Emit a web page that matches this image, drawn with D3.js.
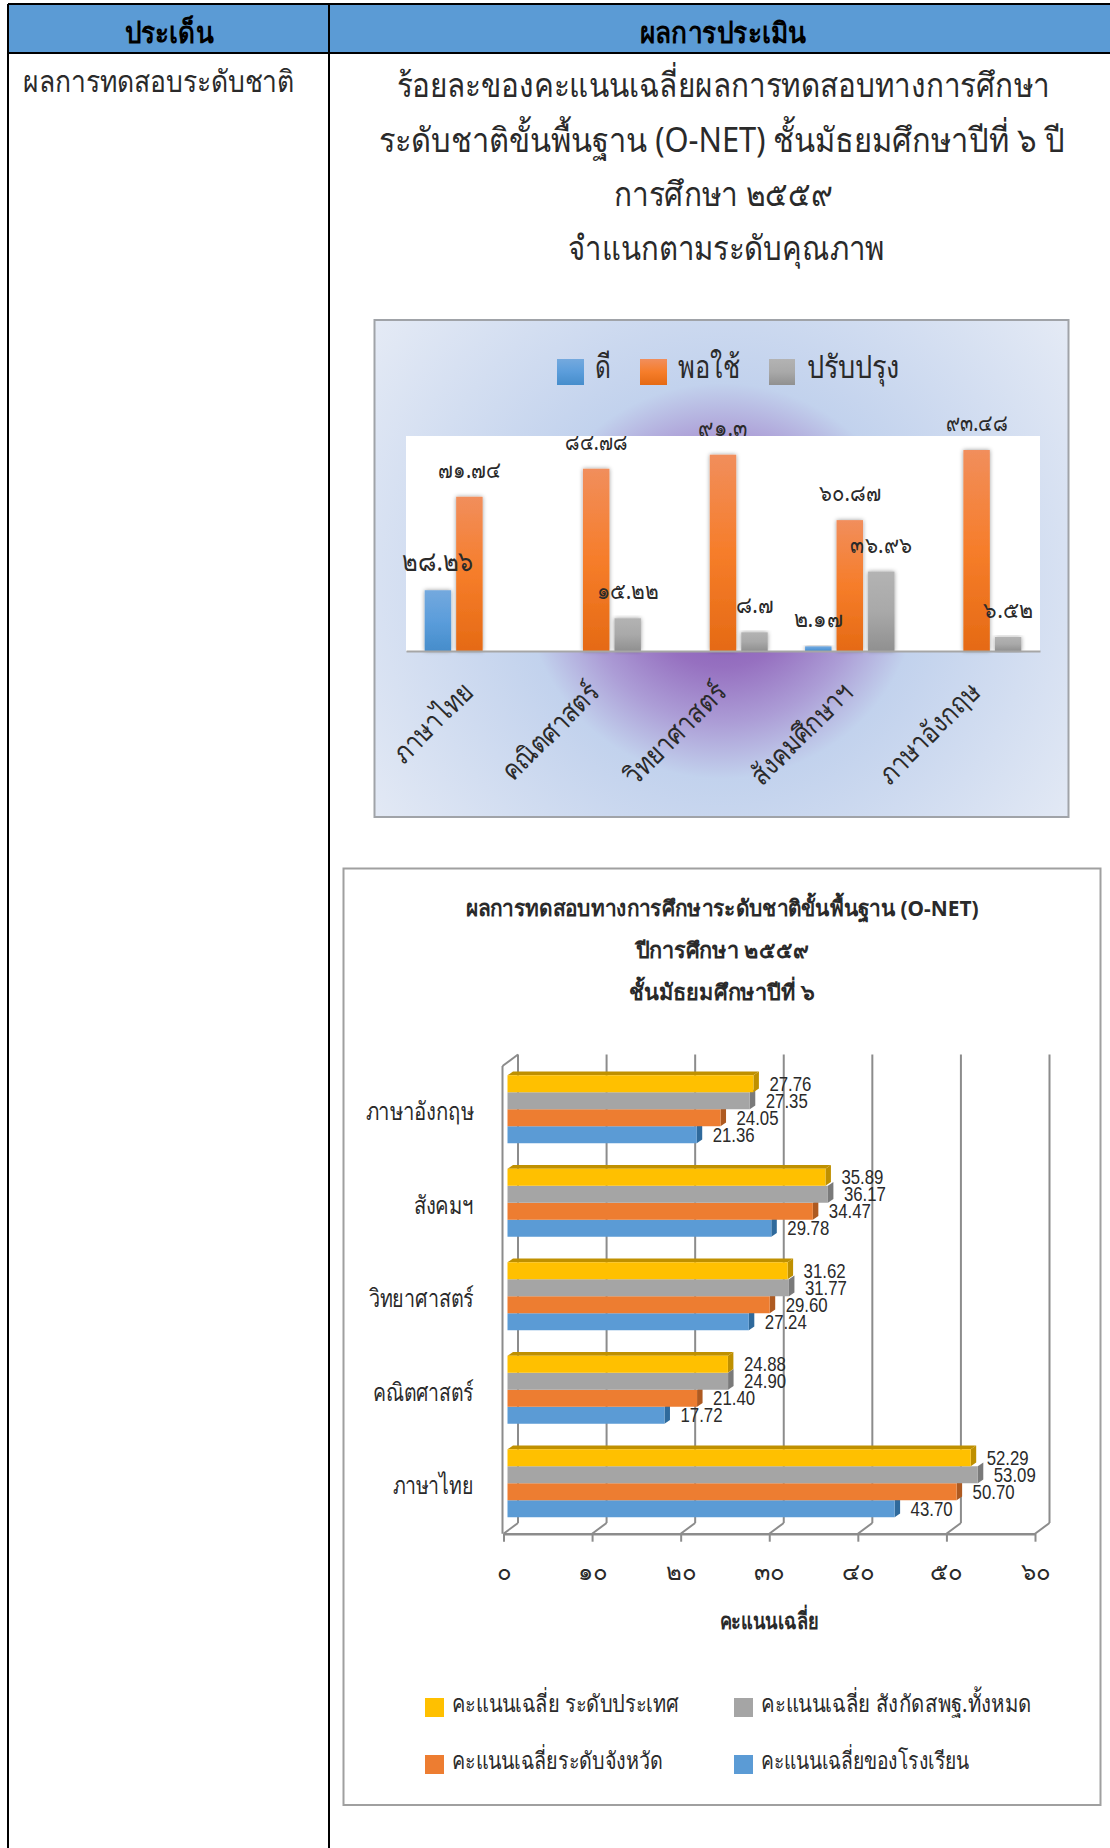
<!DOCTYPE html>
<html>
<head>
<meta charset="utf-8">
<script src="https://cdn.jsdelivr.net/npm/d3@7"></script>
<style>
  html, body { margin: 0; padding: 0; background: #fff; }
  svg { display: block; }
  text { font-family: "Noto Sans", "DejaVu Sans", sans-serif; fill: #2a2a2a; }
</style>
</head>
<body>
<script>
// first chart: share of students per quality level
const subjects = ["ภาษาไทย", "คณิตศาสตร์", "วิทยาศาสตร์", "สังคมศึกษาฯ", "ภาษาอังกฤษ"];
const levels = ["ดี", "พอใช้", "ปรับปรุง"];
const good = [28.26, null, null, 2.17, null];
const fair = [71.74, 84.78, 91.3, 60.87, 93.48];
const poor = [null, 15.22, 8.7, 36.96, 6.52];

// second chart: mean scores, top bar of each group first
const subjects2 = ["ภาษาอังกฤษ", "สังคมฯ", "วิทยาศาสตร์", "คณิตศาสตร์", "ภาษาไทย"];
const scoreNames = ["คะแนนเฉลี่ย ระดับประเทศ", "คะแนนเฉลี่ย  สังกัดสพฐ.ทั้งหมด", "คะแนนเฉลี่ยระดับจังหวัด", "คะแนนเฉลี่ยของโรงเรียน"];
const national = [27.76, 35.89, 31.62, 24.88, 52.29];
const obec = [27.35, 36.17, 31.77, 24.90, 53.09];
const province = [24.05, 34.47, 29.60, 21.40, 50.70];
const school = [21.36, 29.78, 27.24, 17.72, 43.70];
const scoreTicks = [0, 10, 20, 30, 40, 50, 60];

const thaiDigits = "๐๑๒๓๔๕๖๗๘๙";
const thai = s => String(s).replace(/\d/g, d => thaiDigits[d]);

const svg = d3.select("body").append("svg").attr("width", 1110).attr("height", 1848);
const defs = svg.append("defs");

// fixes a text run to the width it has in the picture
function put(parent, str, x, y, size, width, anchor, bold) {
  const t = parent.append("text").attr("x", x).attr("y", y)
    .attr("font-size", size).attr("text-anchor", anchor || "start")
    .attr("font-weight", bold ? "bold" : "normal").text(str);
  if (width) t.attr("textLength", width).attr("lengthAdjust", "spacingAndGlyphs");
  return t;
}

/* ---------- table ---------- */
const table = svg.append("g");
table.append("rect").attr("x", 8).attr("y", 4).attr("width", 1102).attr("height", 49).attr("fill", "#5b9bd5");
[[8, 4, 1110, 4], [8, 53, 1110, 53], [8, 4, 8, 1848], [329, 4, 329, 1848]].forEach(l => {
  table.append("line").attr("x1", l[0]).attr("y1", l[1]).attr("x2", l[2]).attr("y2", l[3])
    .attr("stroke", "#000").attr("stroke-width", 2);
});
put(table, "ประเด็น", 169, 43, 29, 89, "middle", true).style("fill", "#000");
put(table, "ผลการประเมิน", 723, 43, 29, 167, "middle", true).style("fill", "#000");
put(table, "ผลการทดสอบระดับชาติ", 23, 92, 30, 271);
put(table, "ร้อยละของคะแนนเฉลี่ยผลการทดสอบทางการศึกษา", 723, 97, 34, 653, "middle");
put(table, "ระดับชาติขั้นพื้นฐาน (O-NET)  ชั้นมัธยมศึกษาปีที่ ๖ ปี", 721.5, 152, 34, 686, "middle");
put(table, "การศึกษา ๒๕๕๙", 723, 206, 34, 219, "middle");
put(table, "จำแนกตามระดับคุณภาพ", 726, 260, 34, 316, "middle");

/* ---------- chart 1 ---------- */
const c1 = { left: 406, right: 1040, top: 436, base: 651 };
const bg = defs.append("radialGradient").attr("id", "bg").attr("gradientUnits", "userSpaceOnUse")
  .attr("cx", 722).attr("cy", 581).attr("r", 430);
[[0, "#7d4fb2"], [0.2, "#9670c0"], [0.33, "#ac9dd6"], [0.46, "#c2d2ed"], [1, "#e4eaf5"]].forEach(s => {
  bg.append("stop").attr("offset", s[0]).attr("stop-color", s[1]);
});
const barColors = [
  ["#74a9de", "#5b9ddb", "#468dcb"],
  ["#f18e5c", "#f67d2a", "#e56a14"],
  ["#b3b3b3", "#a9a9a9", "#909090"]
];
barColors.forEach((c, i) => {
  const g = defs.append("linearGradient").attr("id", "bar" + i).attr("x1", 0).attr("y1", 0).attr("x2", 0).attr("y2", 1);
  c.forEach((col, j) => g.append("stop").attr("offset", j / 2).attr("stop-color", col));
});
const blur = defs.append("filter").attr("id", "shadow").attr("x", "-30%").attr("y", "-10%").attr("width", "160%").attr("height", "120%");
blur.append("feDropShadow").attr("dx", 0).attr("dy", 0).attr("stdDeviation", 2.2).attr("flood-color", "#000").attr("flood-opacity", 0.4);
defs.append("clipPath").attr("id", "plotClip").append("rect")
  .attr("x", c1.left - 10).attr("y", c1.top).attr("width", c1.right - c1.left + 20).attr("height", c1.base - c1.top);

const g1 = svg.append("g");
g1.append("rect").attr("x", 374.5).attr("y", 320).attr("width", 694).attr("height", 497)
  .attr("fill", "url(#bg)").attr("stroke", "#a0a3a8").attr("stroke-width", 2);

const x0 = d3.scaleBand().domain(subjects).range([c1.left, c1.right]).paddingInner(0.255).paddingOuter(0.1275);
const x1 = d3.scaleBand().domain(levels).range([0, x0.bandwidth()]).paddingInner(0.16).paddingOuter(0.08);
const y1 = d3.scaleLinear().domain([0, 100]).range([c1.base, c1.top]);
const levelValues = [good, fair, poor];

const rows1 = levelValues.flatMap((vals, s) => vals.map((v, i) => ({ s, i, v }))).filter(d => d.v !== null);
const labelOf = d => thai(d.v);
const labelX = d => x0(subjects[d.i]) + x1(levels[d.s]) + x1.bandwidth() / 2;
const labelSize = d => (d.v === 28.26 ? 28 : 23);
const labelWidth = d => (d.v === 28.26 ? 71 : String(d.v).length * 12.4);

// the two top labels sit partly behind the white plot area
const behind = rows1.filter(d => d.v > 90);
const front = rows1.filter(d => d.v <= 90);
function drawLabels(sel, data) {
  sel.selectAll("text").data(data).enter().append("text")
    .attr("x", labelX).attr("y", d => y1(d.v) - 19)
    .attr("text-anchor", "middle").attr("font-size", labelSize)
    .attr("textLength", labelWidth).attr("lengthAdjust", "spacingAndGlyphs")
    .text(labelOf);
}
drawLabels(g1.append("g"), behind);
g1.append("rect").attr("x", c1.left).attr("y", c1.top).attr("width", c1.right - c1.left).attr("height", c1.base - c1.top).attr("fill", "#fff");

g1.append("g").selectAll("rect").data(rows1).enter().append("rect")
  .attr("x", d => x0(subjects[d.i]) + x1(levels[d.s]))
  .attr("y", d => y1(d.v))
  .attr("width", x1.bandwidth())
  .attr("height", d => c1.base - y1(d.v))
  .attr("fill", d => "url(#bar" + d.s + ")")
  .attr("filter", "url(#shadow)");

const subjectWidths = [100, 125, 131, 131, 130];
const axis1 = g1.append("g").attr("transform", `translate(0,${c1.base})`).call(d3.axisBottom(x0).tickSize(0));
axis1.attr("font-family", null).attr("font-size", null);
axis1.select(".domain").attr("stroke", "#a6a6a6").attr("stroke-width", 2);
axis1.selectAll("text")
  .attr("font-size", 28)
  .attr("text-anchor", "end").attr("dy", 0).attr("y", 0).attr("x", 0)
  .attr("textLength", (d, i) => subjectWidths[i]).attr("lengthAdjust", "spacingAndGlyphs")
  .attr("transform", "translate(5,43) rotate(-45)");

const frontLabels = g1.append("g").attr("clip-path", "url(#plotClip)");
drawLabels(frontLabels, front);

const legendX = [557, 640, 769];
const legendW = [27, 27, 26];
const legendTextX = [595, 678, 807];
const legendTextW = [16, 62, 93];
levels.forEach((name, i) => {
  g1.append("rect").attr("x", legendX[i]).attr("y", 359).attr("width", legendW[i]).attr("height", 26).attr("fill", "url(#bar" + i + ")");
  put(g1, name, legendTextX[i], 378, 32, legendTextW[i]);
});

/* ---------- chart 2 ---------- */
const g2 = svg.append("g");
g2.append("rect").attr("x", 343.5).attr("y", 868.5).attr("width", 757).attr("height", 936.5)
  .attr("fill", "#fff").attr("stroke", "#a0a0a0").attr("stroke-width", 2);

put(g2, "ผลการทดสอบทางการศึกษาระดับชาติขั้นพื้นฐาน (O-NET)", 722, 916, 22, 513, "middle", true);
put(g2, "ปีการศึกษา  ๒๕๕๙", 722, 958, 22, 173, "middle", true);
put(g2, "ชั้นมัธยมศึกษาปีที่  ๖", 722, 1000, 22, 186, "middle", true);

const frontX = 503.5, planeX = 507.5, backX = 518;
const floorY = 1533.7, backFloorY = 1523, topBackY = 1054.5;
const xv = d3.scaleLinear().domain([0, 60]).range([0, 531.5]);
const yc = d3.scaleBand().domain(subjects2).range([1062.5, 1530]);
const wall = "#8c8c8c";

// back grid lines and floor diagonals
scoreTicks.forEach(t => {
  g2.append("line").attr("x1", backX + xv(t)).attr("x2", backX + xv(t)).attr("y1", topBackY).attr("y2", backFloorY)
    .attr("stroke", wall).attr("stroke-width", 2);
  g2.append("line").attr("x1", frontX + xv(t)).attr("x2", backX + xv(t)).attr("y1", floorY).attr("y2", backFloorY)
    .attr("stroke", wall).attr("stroke-width", 2);
});
g2.append("path").attr("d", `M${frontX - 1},1066L${backX},${topBackY}`).attr("stroke", wall).attr("stroke-width", 2).attr("fill", "none");
g2.append("line").attr("x1", frontX - 1).attr("x2", frontX - 1).attr("y1", 1066).attr("y2", floorY).attr("stroke", wall).attr("stroke-width", 2);

const axis2 = g2.append("g").attr("transform", `translate(${frontX},${floorY})`)
  .call(d3.axisBottom(xv).tickValues(scoreTicks).tickSize(8).tickSizeOuter(0).tickFormat(thai));
axis2.attr("font-family", null).attr("font-size", null);
axis2.select(".domain").attr("stroke", wall).attr("stroke-width", 2.5);
axis2.selectAll("line").attr("stroke", wall).attr("stroke-width", 2);
axis2.selectAll("text").attr("font-size", 24).attr("y", 0).attr("dy", 0)
  .attr("transform", "translate(0,46)");

const series = [national, obec, province, school];
const faceColors = ["#ffc000", "#a5a5a5", "#ed7d31", "#5b9bd5"];
const sideColors = ["#bf9000", "#7a7a7a", "#ae5a21", "#2f6a9c"];
const barH = 17;
const sideDx = 5.5, sideDy = 3.8;
const ys = d3.scaleBand().domain(d3.range(4)).range([-34, 34]);
const subject2Widths = [108, 60, 105, 101, 81];

subjects2.forEach((name, i) => {
  const cy = yc(name) + yc.bandwidth() / 2;
  const gr = g2.append("g").attr("transform", `translate(${planeX},${cy})`);
  // draw bottom bar first so upper sides stay clean
  [3, 2, 1, 0].forEach(s => {
    const v = series[s][i];
    const w = xv(v), top = ys(s);
    gr.append("path")
      .attr("d", `M${w},${top}l${sideDx},${-sideDy}v${barH}l${-sideDx},${sideDy}z`)
      .attr("fill", sideColors[s]);
    if (s === 0) {
      gr.append("path")
        .attr("d", `M0,${top}l${sideDx},${-sideDy}H${w + sideDx}l${-sideDx},${sideDy}z`)
        .attr("fill", sideColors[s]);
    }
    gr.append("rect").attr("x", 0).attr("y", top).attr("width", w).attr("height", ys.bandwidth()).attr("fill", faceColors[s]);
    gr.append("text").attr("x", w + 16).attr("y", top + barH / 2 + 7)
      .attr("font-size", 20).style("font-family", '"Liberation Sans Narrow", "Liberation Sans", sans-serif')
      .attr("textLength", 42).attr("lengthAdjust", "spacingAndGlyphs")
      .text(v.toFixed(2));
  });
  put(g2, name, 473.5, cy + 11, 25, subject2Widths[i], "end");
});

put(g2, "คะแนนเฉลี่ย", 769, 1629, 23, 99, "middle", true);

const legendPos = [[425, 1698], [734, 1698], [425, 1755], [734, 1755]];
const legendText = [227, 271, 211, 208];
scoreNames.forEach((name, i) => {
  const p = legendPos[i];
  g2.append("rect").attr("x", p[0]).attr("y", p[1]).attr("width", 19).attr("height", 19).attr("fill", faceColors[i]);
  put(g2, name, p[0] + 27, p[1] + 14, 24, legendText[i]);
});
</script>
</body>
</html>
